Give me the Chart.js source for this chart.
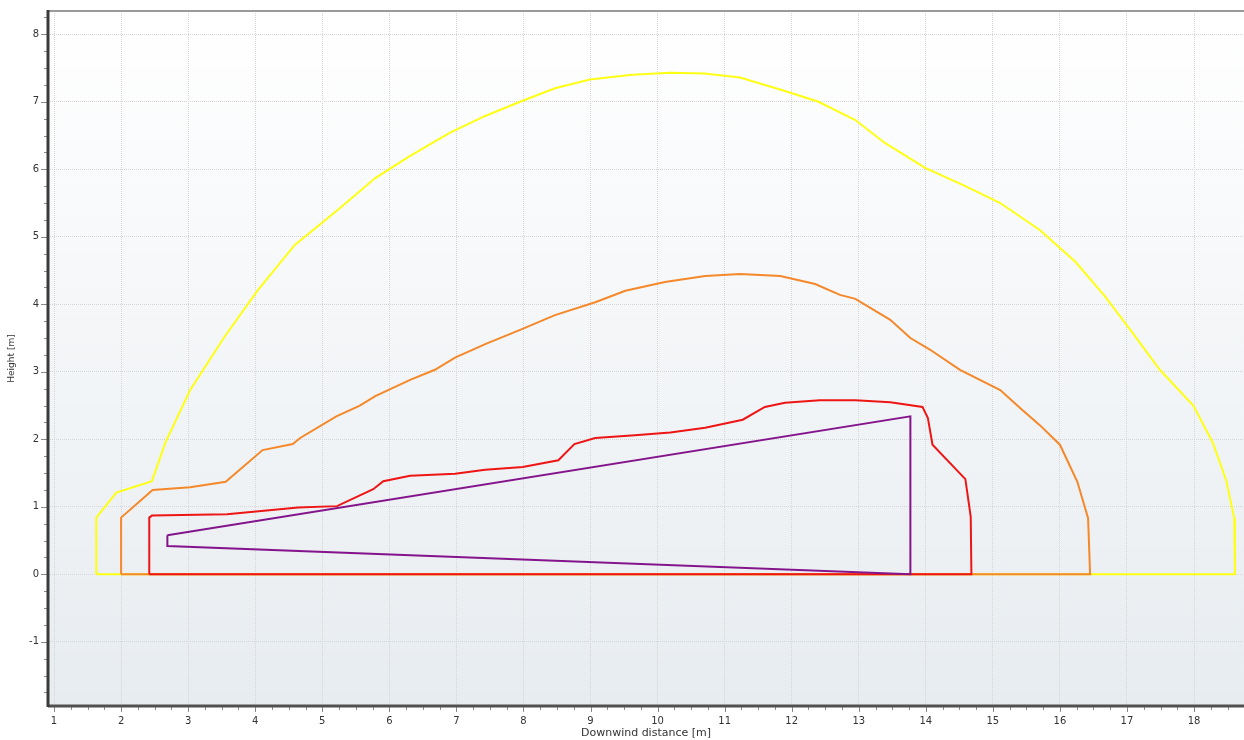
<!DOCTYPE html>
<html>
<head>
<meta charset="utf-8">
<script src="https://cdn.jsdelivr.net/npm/chart.js@4.4.0/dist/chart.umd.min.js"></script>
<style>
  html, body { margin: 0; padding: 0; background: #fff; }
  #wrap { width: 1244px; height: 740px; }
</style>
</head>
<body>
<div id="wrap"><canvas id="plumeChart" width="1244" height="740"></canvas></div>
<script>
// contour outlines (x = downwind distance, y = height, both in m)
const yellowX = [1.63, 1.63, 1.93, 2.46, 2.66, 3.03, 3.55, 4.04, 4.59, 5.27, 5.79, 6.31, 6.90, 7.43, 7.95, 8.47, 8.99, 9.62, 10.19, 10.70, 11.23, 11.90, 12.40, 12.95, 13.39, 13.99, 14.59, 15.11, 15.70, 16.23, 16.67, 17.05, 17.49, 17.99, 18.28, 18.48, 18.60, 18.61, 1.63];
const yellowY = [0, 0.84, 1.21, 1.38, 1.95, 2.73, 3.53, 4.21, 4.88, 5.43, 5.87, 6.20, 6.54, 6.79, 7.00, 7.20, 7.33, 7.40, 7.43, 7.42, 7.36, 7.16, 7.00, 6.73, 6.39, 6.02, 5.75, 5.50, 5.10, 4.63, 4.12, 3.62, 3.03, 2.50, 1.95, 1.39, 0.83, 0, 0];

const orangeX = [2.00, 2.00, 2.47, 3.03, 3.56, 4.11, 4.56, 4.67, 5.21, 5.56, 5.79, 6.31, 6.68, 6.98, 7.43, 7.95, 8.47, 9.07, 9.52, 10.11, 10.71, 11.23, 11.83, 12.35, 12.72, 12.95, 13.47, 13.77, 14.06, 14.51, 15.11, 15.41, 15.70, 16.00, 16.26, 16.42, 16.45, 2.00];
const orangeY = [0, 0.84, 1.25, 1.29, 1.37, 1.84, 1.93, 2.02, 2.34, 2.50, 2.64, 2.88, 3.03, 3.21, 3.41, 3.62, 3.84, 4.03, 4.20, 4.33, 4.42, 4.45, 4.42, 4.30, 4.14, 4.08, 3.77, 3.50, 3.33, 3.03, 2.73, 2.46, 2.21, 1.92, 1.37, 0.83, 0, 0];

const redX = [2.42, 2.42, 2.46, 3.58, 4.64, 5.22, 5.76, 5.91, 6.31, 6.98, 7.43, 7.99, 8.52, 8.76, 9.07, 9.66, 10.19, 10.71, 11.27, 11.60, 11.90, 12.42, 12.95, 13.47, 13.95, 14.03, 14.10, 14.59, 14.67, 14.68, 2.42];
const redY = [0, 0.84, 0.87, 0.89, 0.99, 1.01, 1.26, 1.38, 1.46, 1.49, 1.55, 1.59, 1.69, 1.93, 2.02, 2.06, 2.10, 2.17, 2.29, 2.48, 2.54, 2.58, 2.58, 2.55, 2.48, 2.32, 1.92, 1.41, 0.85, 0, 0];

const purpleX = [2.69, 13.77, 13.77, 2.69, 2.69];
const purpleY = [0.58, 2.34, 0, 0.42, 0.58];

const xTicks = [1, 2, 3, 4, 5, 6, 7, 8, 9, 10, 11, 12, 13, 14, 15, 16, 17, 18];
const yTicks = [-1, 0, 1, 2, 3, 4, 5, 6, 7, 8];

function toPoints(xs, ys) {
  return xs.map((x, i) => ({ x, y: ys[i] }));
}

function lineSet(label, xs, ys, color, order) {
  return {
    label,
    data: toPoints(xs, ys),
    borderColor: color,
    backgroundColor: color,
    borderWidth: 2,
    showLine: true,
    pointRadius: 0,
    tension: 0,
    fill: false,
    order
  };
}

// background gradient, minor ticks and frame lines
const framePlugin = {
  id: "frame",
  beforeDraw(chart) {
    const { ctx, chartArea: a } = chart;
    const g = ctx.createLinearGradient(0, a.top, 0, a.bottom);
    g.addColorStop(0, "#ffffff");
    g.addColorStop(1, "#e7ecf0");
    ctx.save();
    ctx.fillStyle = g;
    ctx.fillRect(a.left, a.top, a.right - a.left, a.bottom - a.top);
    ctx.restore();
  },
  afterDraw(chart) {
    const { ctx, chartArea: a, scales } = chart;
    const xs = scales.x, ys = scales.y;
    ctx.save();
    ctx.strokeStyle = "#8a8a8a";
    ctx.lineWidth = 1;
    ctx.beginPath();
    for (let v = 1; v <= 18.75; v += 0.25) {
      const px = Math.round(xs.getPixelForValue(v)) + 0.5;
      const len = Number.isInteger(v) ? 6 : 4;
      ctx.moveTo(px, a.bottom);
      ctx.lineTo(px, a.bottom + len);
    }
    for (let v = -1.75; v <= 8.25; v += 0.25) {
      const py = Math.round(ys.getPixelForValue(v)) + 0.5;
      const len = Number.isInteger(v) ? 7 : 4;
      ctx.moveTo(a.left, py);
      ctx.lineTo(a.left - len, py);
    }
    ctx.stroke();

    ctx.strokeStyle = "#9a9a9a";
    ctx.lineWidth = 2;
    ctx.beginPath();
    ctx.moveTo(a.left, a.top);
    ctx.lineTo(a.right, a.top);
    ctx.stroke();

    ctx.strokeStyle = "#505050";
    ctx.lineWidth = 3;
    ctx.beginPath();
    ctx.moveTo(a.left, a.bottom);
    ctx.lineTo(a.right, a.bottom);
    ctx.stroke();

    ctx.strokeStyle = "#3a3a3a";
    ctx.beginPath();
    ctx.moveTo(a.left, a.top - 1);
    ctx.lineTo(a.left, a.bottom + 1);
    ctx.stroke();
    ctx.restore();
  }
};

const tickFont = { family: "DejaVu Sans", size: 10 };

new Chart(document.getElementById("plumeChart"), {
  type: "scatter",
  data: {
    datasets: [
      lineSet("Yellow", yellowX, yellowY, "#ffff14", 4),
      lineSet("Orange", orangeX, orangeY, "#f5882a", 3),
      lineSet("Red", redX, redY, "#ee1515", 2),
      lineSet("Purple", purpleX, purpleY, "#84148c", 1)
    ]
  },
  options: {
    responsive: false,
    animation: false,
    layout: { padding: { top: 11, right: 0, left: 0, bottom: 0 } },
    plugins: {
      legend: { display: false },
      tooltip: { enabled: false }
    },
    scales: {
      x: {
        type: "linear",
        min: 0.91,
        max: 18.745,
        afterBuildTicks: (s) => { s.ticks = xTicks.map((v) => ({ value: v })); },
        afterFit: (s) => { s.height = 34; s.paddingLeft = 0; s.paddingRight = 0; },
        ticks: { font: tickFont, color: "#333", padding: 9, maxRotation: 0, autoSkip: false },
        grid: { color: "#d6d6d6", drawTicks: false },
        border: { display: false, dash: [1, 1] },
        title: {
          display: true,
          text: "Downwind distance [m]",
          font: { family: "DejaVu Sans", size: 11 },
          color: "#333",
          padding: { top: 0, bottom: 0 }
        }
      },
      y: {
        type: "linear",
        min: -1.951,
        max: 8.345,
        afterBuildTicks: (s) => { s.ticks = yTicks.map((v) => ({ value: v })); },
        afterFit: (s) => { s.width = 48; s.paddingTop = 0; s.paddingBottom = 0; },
        ticks: { font: tickFont, color: "#333", padding: 9, autoSkip: false },
        grid: { color: "#d6d6d6", drawTicks: false },
        border: { display: false, dash: [1, 1] },
        title: {
          display: true,
          text: "Height [m]",
          font: { family: "DejaVu Sans", size: 9 },
          color: "#333",
          padding: { top: 6, bottom: 0 }
        }
      }
    }
  },
  plugins: [framePlugin]
});
</script>
</body>
</html>
